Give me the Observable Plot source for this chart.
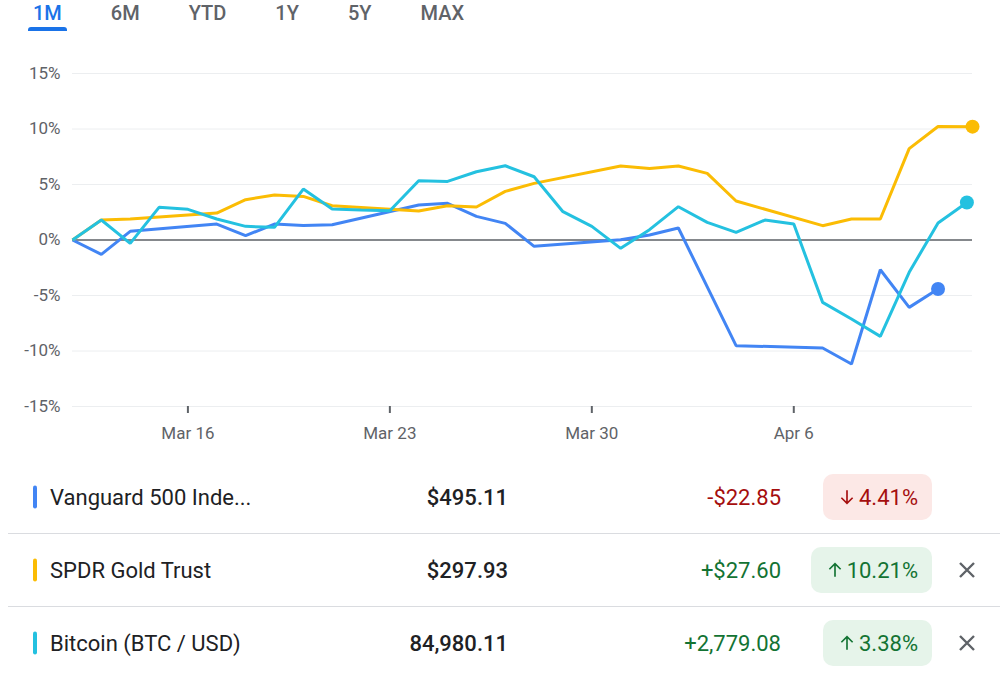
<!DOCTYPE html>
<html><head><meta charset="utf-8">
<script src="https://cdn.jsdelivr.net/npm/d3@7"></script>
<script src="https://cdn.jsdelivr.net/npm/@observablehq/plot@0.6"></script>
<style>
html,body{margin:0;padding:0;background:#fff}
body{width:1000px;height:675px;position:relative;overflow:hidden;font-family:Roboto,"Noto Sans",sans-serif}
#tabs{position:absolute;left:33px;top:3px;display:flex;gap:49px}
.tab{font-size:20px;font-weight:500;line-height:20px;color:#5f6368;position:relative;white-space:nowrap}
.tab.active{color:#1a73e8}
.tab.active::after{content:"";position:absolute;left:-5px;right:-5px;top:24px;height:4px;background:#1a73e8;border-radius:3px 3px 0 0}
#chart{position:absolute;left:0;top:40px}
.row{position:absolute;left:0;width:1000px;height:73px}
.row.sep{border-top:1px solid #dadce0;left:8px;width:992px}
.row > *{position:absolute;top:50%;transform:translateY(-50%);white-space:nowrap}
.bar{left:33px;width:4px;height:23px;border-radius:2px}
.row.sep .bar{left:25px}
.name{left:50px;font-size:22px;color:#202124;line-height:73px}
.row.sep .name{left:42px}
.price{right:492px;font-size:22px;font-weight:500;color:#202124;line-height:73px}
.chg{right:219px;font-size:22px;line-height:73px}
.badge{right:68px;height:46px;border-radius:10px;padding:0 14px 0 15px;display:flex;align-items:center;font-size:22px}
.badge svg{width:18px;height:18px;margin-right:3px}
.close{left:949px;width:20px;height:20px}
.up{color:#137333}.down{color:#a50e0e}
.badge.up{background:#e6f4ea}.badge.down{background:#fce8e6}
</style></head><body>
<div id="tabs"></div>
<div id="chart"></div>
<div id="table"></div>
<script>
// ---- tabs ----
const tabLabels = ["1M", "6M", "YTD", "1Y", "5Y", "MAX"];
const activeTab = "1M";

// ---- axes ----
const yTickValues = [-15, -10, -5, 0, 5, 10, 15];
const yTickLabels = ["-15%", "-10%", "-5%", "0%", "5%", "10%", "15%"];
const xTickDates = ["2025-03-16", "2025-03-23", "2025-03-30", "2025-04-06"];
const xTickLabels = ["Mar 16", "Mar 23", "Mar 30", "Apr 6"];
const xDomain = ["2025-03-12T00:00Z", "2025-04-12T04:40Z"];

// ---- series (percent change since start) ----
const vooDates = ["2025-03-12","2025-03-13","2025-03-14","2025-03-17","2025-03-18","2025-03-19","2025-03-20","2025-03-21",
  "2025-03-24","2025-03-25","2025-03-26","2025-03-27","2025-03-28","2025-03-31","2025-04-01","2025-04-02",
  "2025-04-04","2025-04-07","2025-04-08","2025-04-09","2025-04-10","2025-04-11"];
const vooValues = [0, -1.3, 0.78, 1.44, 0.39, 1.44, 1.3, 1.38,
  3.15, 3.3, 2.13, 1.5, -0.57, 0.03, 0.45, 1.08,
  -9.52, -9.73, -11.17, -2.68, -6.07, -4.41];

const gldDates = ["2025-03-12","2025-03-13","2025-03-14","2025-03-17","2025-03-18","2025-03-19","2025-03-20","2025-03-21",
  "2025-03-24","2025-03-25","2025-03-26","2025-03-27","2025-03-28","2025-03-31","2025-04-01","2025-04-02",
  "2025-04-03","2025-04-04","2025-04-07","2025-04-08","2025-04-09","2025-04-10","2025-04-11","2025-04-12T04:40Z"];
const gldValues = [0, 1.8, 1.89, 2.43, 3.63, 4.05, 3.93, 3.09,
  2.61, 3.09, 2.97, 4.38, 5.1, 6.67, 6.45, 6.67,
  6.0, 3.51, 1.29, 1.89, 1.89, 8.23, 10.23, 10.21];

const btcDates = ["2025-03-12","2025-03-13","2025-03-14","2025-03-15","2025-03-16","2025-03-17","2025-03-18","2025-03-19",
  "2025-03-20","2025-03-21","2025-03-22","2025-03-23","2025-03-24","2025-03-25","2025-03-26","2025-03-27",
  "2025-03-28","2025-03-29","2025-03-30","2025-03-31","2025-04-01","2025-04-02","2025-04-03","2025-04-04",
  "2025-04-05","2025-04-06","2025-04-07","2025-04-08","2025-04-09","2025-04-10","2025-04-11","2025-04-12"];
const btcValues = [0, 1.8, -0.3, 2.94, 2.76, 1.89, 1.23, 1.14,
  4.59, 2.79, 2.7, 2.64, 5.34, 5.28, 6.15, 6.69,
  5.7, 2.55, 1.23, -0.75, 0.93, 3.0, 1.59, 0.69,
  1.8, 1.44, -5.62, -7.12, -8.68, -2.91, 1.53, 3.38];

// ---- table ----
const names = ["Vanguard 500 Inde...", "SPDR Gold Trust", "Bitcoin (BTC / USD)"];
const prices = ["$495.11", "$297.93", "84,980.11"];
const changes = ["-$22.85", "+$27.60", "+2,779.08"];
const pctChanges = ["4.41%", "10.21%", "3.38%"];
const directions = ["down", "up", "up"];
const removable = [false, true, true];

const seriesKeys = ["VOO", "GLD", "BTC"];
const seriesColors = ["#4285f4", "#fbbc04", "#24c1e0"];

// build tabs
const tabsEl = document.getElementById("tabs");
tabLabels.forEach(t => {
  const d = document.createElement("div");
  d.className = "tab" + (t === activeTab ? " active" : "");
  d.textContent = t;
  tabsEl.appendChild(d);
});

// build chart data
const allDates = [vooDates, gldDates, btcDates];
const allValues = [vooValues, gldValues, btcValues];
const data = seriesKeys.flatMap((k, s) => allDates[s].map((d, i) => ({key: k, date: new Date(d), value: allValues[s][i]})));
const lastPoints = seriesKeys.map(k => data.filter(d => d.key === k).at(-1));
const xTicks = xTickDates.map(d => new Date(d));

const chart = Plot.plot({
  width: 1000,
  height: 420,
  marginTop: 33,
  marginBottom: 54,
  marginLeft: 72,
  marginRight: 28,
  style: {fontFamily: "Roboto, sans-serif", fontSize: "17px", color: "#5f6368", background: "transparent", overflow: "visible"},
  x: {type: "utc", domain: xDomain.map(d => new Date(d))},
  y: {domain: [-15, 15]},
  color: {domain: seriesKeys, range: seriesColors},
  marks: [
    Plot.gridY(yTickValues, {stroke: "#eceef0", strokeOpacity: 1, strokeWidth: 1}),
    Plot.axisY(yTickValues, {tickSize: 0, tickPadding: 12, label: null, fill: "#5f6368",
      tickFormat: d => yTickLabels[yTickValues.indexOf(d)]}),
    Plot.axisX(xTicks, {tickSize: 7, tickPadding: 13, label: null, stroke: "#5f6368", strokeWidth: 2, fill: "#5f6368",
      tickFormat: d => xTickLabels[xTicks.findIndex(t => +t === +d)]}),
    Plot.ruleY([0], {stroke: "#5f6368", strokeWidth: 1.3}),
    Plot.line(data, {x: "date", y: "value", z: "key", stroke: "key", strokeWidth: 3, strokeLinejoin: "miter", strokeLinecap: "butt"}),
    Plot.dot(lastPoints, {x: "date", y: "value", fill: "key", r: 7})
  ]
});
document.getElementById("chart").appendChild(chart);

// build table
const arrowUp = `<svg viewBox="0 0 24 24"><path d="M12 3.5V21M4.5 11L12 3.5L19.5 11" fill="none" stroke="currentColor" stroke-width="2.2"/></svg>`;
const arrowDown = `<svg viewBox="0 0 24 24"><path d="M12 20.5V3M4.5 13L12 20.5L19.5 13" fill="none" stroke="currentColor" stroke-width="2.2"/></svg>`;
const tableEl = document.getElementById("table");
const rowCenters = [497, 570, 643];
names.forEach((n, i) => {
  const row = document.createElement("div");
  row.className = "row" + (i > 0 ? " sep" : "");
  row.style.top = (rowCenters[i] - 36.5 - (i > 0 ? 1 : 0)) + "px";
  const arrow = directions[i] === "up" ? arrowUp : arrowDown;
  row.innerHTML =
    `<div class="bar" style="background:${seriesColors[i]}"></div>` +
    `<div class="name">${n}</div>` +
    `<div class="price">${prices[i]}</div>` +
    `<div class="chg ${directions[i]}">${changes[i]}</div>` +
    `<div class="badge ${directions[i]}">${arrow}<span>${pctChanges[i]}</span></div>` +
    (removable[i] ? `<svg class="close" viewBox="0 0 20 20"><path d="M3 3L17 17M17 3L3 17" stroke="#5f6368" stroke-width="2.4"/></svg>` : "");
  tableEl.appendChild(row);
});
</script>
</body></html>
